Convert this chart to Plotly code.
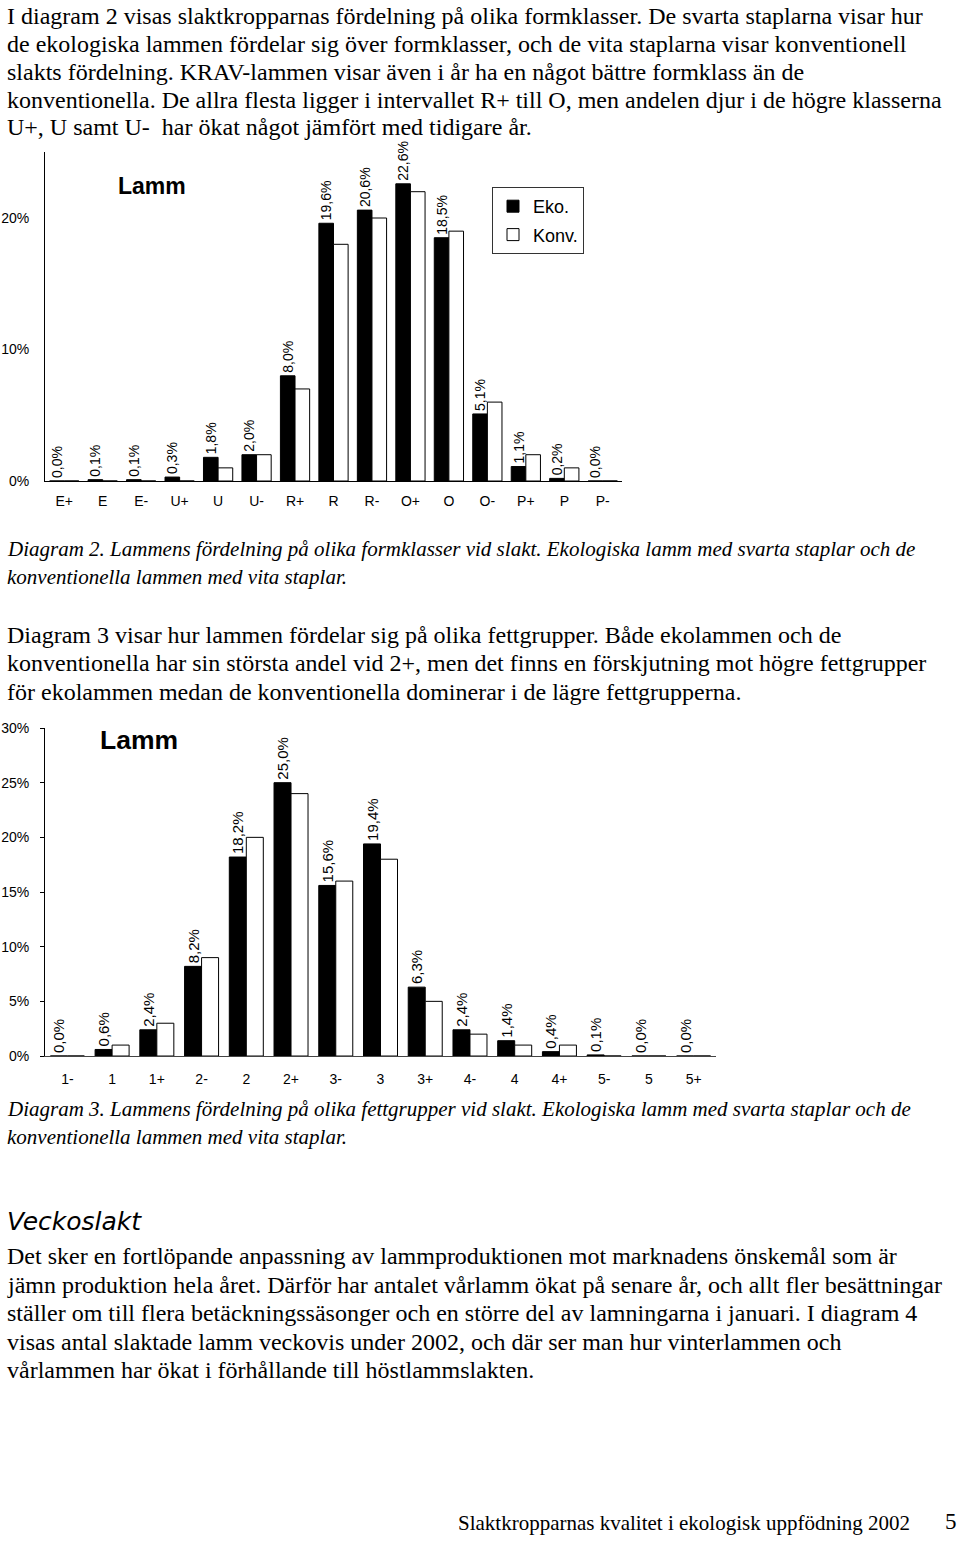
import plotly.graph_objects as go

W, H = 960, 1541

# ---------------- data ----------------
form_classes = ["E+", "E", "E-", "U+", "U", "U-", "R+", "R", "R-", "O+", "O", "O-", "P+", "P", "P-"]
form_eko = [0.0, 0.1, 0.1, 0.3, 1.8, 2.0, 8.0, 19.6, 20.6, 22.6, 18.5, 5.1, 1.1, 0.2, 0.0]
form_konv = [0.0, 0.0, 0.0, 0.0, 1.0, 2.0, 7.0, 18.0, 20.0, 22.0, 19.0, 6.0, 2.0, 1.0, 0.0]

fat_groups = ["1-", "1", "1+", "2-", "2", "2+", "3-", "3", "3+", "4-", "4", "4+", "5-", "5", "5+"]
fat_eko = [0.0, 0.6, 2.4, 8.2, 18.2, 25.0, 15.6, 19.4, 6.3, 2.4, 1.4, 0.4, 0.1, 0.0, 0.0]
fat_konv = [0.0, 1.0, 3.0, 9.0, 20.0, 24.0, 16.0, 18.0, 5.0, 2.0, 1.0, 1.0, 0.0, 0.0, 0.0]

form_yticks = [0, 10, 20]
fat_yticks = [0, 5, 10, 15, 20, 25, 30]

para1 = [
    "I diagram 2 visas slaktkropparnas fördelning på olika formklasser. De svarta staplarna visar hur",
    "de ekologiska lammen fördelar sig över formklasser, och de vita staplarna visar konventionell",
    "slakts fördelning. KRAV-lammen visar även i år ha en något bättre formklass än de",
    "konventionella. De allra flesta ligger i intervallet R+ till O, men andelen djur i de högre klasserna",
    "U+, U samt U-  har ökat något jämfört med tidigare år.",
]
caption2 = [
    "Diagram 2. Lammens fördelning på olika formklasser vid slakt. Ekologiska lamm med svarta staplar och de",
    "konventionella lammen med vita staplar.",
]
para2 = [
    "Diagram 3 visar hur lammen fördelar sig på olika fettgrupper. Både ekolammen och de",
    "konventionella har sin största andel vid 2+, men det finns en förskjutning mot högre fettgrupper",
    "för ekolammen medan de konventionella dominerar i de lägre fettgrupperna.",
]
caption3 = [
    "Diagram 3. Lammens fördelning på olika fettgrupper vid slakt. Ekologiska lamm med svarta staplar och de",
    "konventionella lammen med vita staplar.",
]
heading = "Veckoslakt"
para3 = [
    "Det sker en fortlöpande anpassning av lammproduktionen mot marknadens önskemål som är",
    "jämn produktion hela året. Därför har antalet vårlamm ökat på senare år, och allt fler besättningar",
    "ställer om till flera betäckningssäsonger och en större del av lamningarna i januari. I diagram 4",
    "visas antal slaktade lamm veckovis under 2002, och där ser man hur vinterlammen och",
    "vårlammen har ökat i förhållande till höstlammslakten.",
]
footer = "Slaktkropparnas kvalitet i ekologisk uppfödning 2002"
page_no = "5"


def px(x):
    return x / W


def Y(y):
    # page position (px from top) compensated for the capture's vertical offset/scale
    return (y - 8.0) / 0.9896


def py(y):
    return 1 - y / H


def lbl(v):
    return f"{v:.1f}".replace(".", ",") + "%"


SANS = "Liberation Sans, Arial, sans-serif"
SERIF = "Liberation Serif, Times New Roman, serif"

fig = go.Figure()

# chart 1
fig.add_trace(go.Bar(
    x=form_classes, y=form_eko, name="Eko.", xaxis="x", yaxis="y",
    marker=dict(color="black", line=dict(color="black", width=1)),
    text=[lbl(v) for v in form_eko], textposition="outside", textangle=-90,
    textfont=dict(family=SANS, size=14, color="black"), constraintext="none",
    cliponaxis=False, legendgroup="a",
))
fig.add_trace(go.Bar(
    x=form_classes, y=form_konv, name="Konv.", xaxis="x", yaxis="y",
    marker=dict(color="white", line=dict(color="black", width=1)),
    legendgroup="b",
))
# chart 2
fig.add_trace(go.Bar(
    x=fat_groups, y=fat_eko, name="Eko.", xaxis="x2", yaxis="y2", showlegend=False,
    marker=dict(color="black", line=dict(color="black", width=1)),
    text=[lbl(v) for v in fat_eko], textposition="outside", textangle=-90,
    textfont=dict(family=SANS, size=15, color="black"), constraintext="none",
    cliponaxis=False,
))
fig.add_trace(go.Bar(
    x=fat_groups, y=fat_konv, name="Konv.", xaxis="x2", yaxis="y2", showlegend=False,
    marker=dict(color="white", line=dict(color="black", width=1)),
))

ann = []


def add_text(t, x, ypage, size, family=SERIF, xanchor="left"):
    ann.append(dict(text=t, x=px(x), y=py(ypage), xref="paper", yref="paper",
                    xanchor=xanchor, yanchor="middle", showarrow=False,
                    font=dict(family=family, size=size, color="black")))


# top paragraph (kept inside the canvas)
for i, t in enumerate(para1):
    add_text(t, 5, 8.5 + i * 28.0, 24)
for i, t in enumerate(caption2):
    add_text(f"<i>{t}</i>", 5, Y(549 + i * 28), 21)
for i, t in enumerate(para2):
    add_text(t, 5, Y(635 + i * 28.3), 24)
for i, t in enumerate(caption3):
    add_text(f"<i>{t}</i>", 5, Y(1109 + i * 28), 21)
add_text(f"<i>{heading}</i>", 5, Y(1221), 25, family="DejaVu Sans, sans-serif")
for i, t in enumerate(para3):
    add_text(t, 5, Y(1256 + i * 28.5), 24)
add_text(footer, 456, 1530.5, 21)
add_text(page_no, 959, 1529.5, 23, xanchor="right")
# chart titles
add_text("<b>Lamm</b>", 116, Y(186), 23, family=SANS)
add_text("<b>Lamm</b>", 98, Y(740), 26.5, family=SANS)

fig.update_layout(
    width=W, height=H, autosize=False,
    margin=dict(l=0, r=0, t=0, b=0),
    paper_bgcolor="white", plot_bgcolor="white",
    barmode="group", bargap=0.24, bargroupgap=0,
    showlegend=True,
    legend=dict(x=px(492), y=py(Y(187)), xanchor="left", yanchor="top",
                bordercolor="#333", borderwidth=1, bgcolor="white",
                font=dict(family=SANS, size=18, color="black"),
                traceorder="grouped", tracegroupgap=2, itemwidth=30),
    xaxis=dict(domain=[px(45), px(622)], anchor="y", showline=True, linecolor="black",
               linewidth=1, ticks="", showgrid=False, zeroline=False,
               tickfont=dict(family=SANS, size=14, color="black"), ticklabelstandoff=7,
               fixedrange=True),
    yaxis=dict(domain=[py(Y(481)), py(Y(152.25))], anchor="x", range=[0, 25], showline=True,
               linecolor="black", linewidth=1, ticks="", showgrid=False, zeroline=False,
               tickvals=form_yticks, ticktext=[f"{v}%" for v in form_yticks],
               tickfont=dict(family=SANS, size=14, color="black"), ticklabelstandoff=12,
               fixedrange=True),
    xaxis2=dict(domain=[px(45), px(716)], anchor="y2", showline=True, linecolor="#444",
                linewidth=1, ticks="", showgrid=False, zeroline=False,
                tickfont=dict(family=SANS, size=14, color="black"), ticklabelstandoff=10,
                fixedrange=True),
    yaxis2=dict(domain=[py(Y(1056)), py(Y(728))], anchor="x2", range=[0, 30], showline=True,
                linecolor="black", linewidth=1, ticks="outside", ticklen=4, tickcolor="black",
                showgrid=False, zeroline=False,
                tickvals=fat_yticks, ticktext=[f"{v}%" for v in fat_yticks],
                tickfont=dict(family=SANS, size=14, color="black"), ticklabelstandoff=8,
                fixedrange=True),
    annotations=ann,
)

page_js = (
    "var s=document.createElement('style');"
    "s.innerHTML='html,body{margin:0 !important;padding:0 !important;width:960px;"
    "height:1541px;overflow:hidden;}';"
    "document.head.appendChild(s);"
    "var g=document.getElementById('{plot_id}');"
    "if(g){g.style.position='fixed';g.style.top='0px';g.style.left='0px';}"
)
fig.write_html("out.html", config={"displayModeBar": False}, post_script=page_js)
